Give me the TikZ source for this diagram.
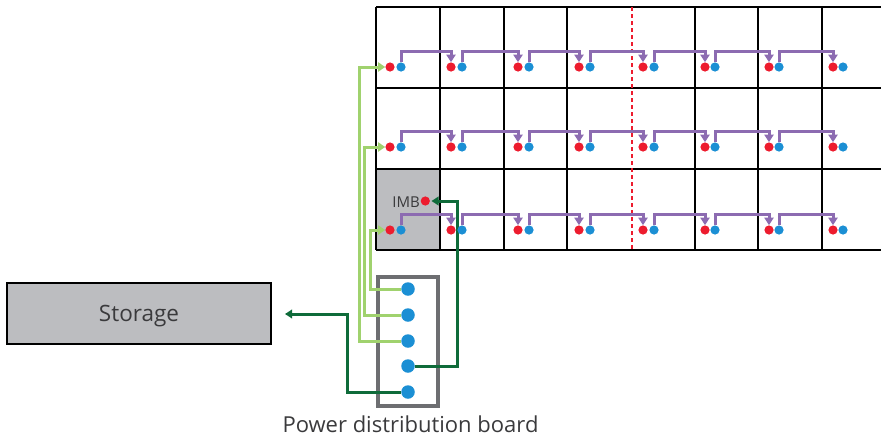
\documentclass[tikz,border=0pt]{standalone}
\usepackage{fontspec}
\setmainfont{Open Sans}
\usetikzlibrary{arrows.meta,backgrounds}
\definecolor{cellgray}{HTML}{BCBDC0}
\definecolor{boardgray}{HTML}{6D6E71}
\definecolor{textgray}{HTML}{3A3A3C}
\definecolor{dotred}{HTML}{ED1C2E}
\definecolor{dotblue}{HTML}{1B8FD4}
\definecolor{linkpurple}{HTML}{8C6BB1}
\definecolor{feedgreen}{HTML}{A0D26E}
\definecolor{signalgreen}{HTML}{0F6B3A}

\begin{document}
\begin{tikzpicture}[
    x=1pt, y=-1pt,
    reddot/.style={circle, fill=dotred, inner sep=0pt, minimum size=9.2pt},
    bluedot/.style={circle, fill=dotblue, inner sep=0pt, minimum size=9.2pt},
    pindot/.style={circle, fill=dotblue, inner sep=0pt, minimum size=13.5pt},
    cellline/.style={line width=2pt, black},
    link/.style={-{Triangle[length=7.5pt, width=9pt]}, line width=3pt, linkpurple},
    feed/.style={-{Triangle[length=7pt, width=9pt]}, line width=3pt, feedgreen},
    signal/.style={-{Triangle[length=7pt, width=8.5pt]}, line width=3pt, signalgreen},
    every node/.style={text=textgray},
]
\useasboundingbox (0,0) rectangle (881,437);

% === Dots on the wall ===
\foreach \row/\ypos in {1/67, 2/147, 3/230} {
    \foreach \col/\xred/\xblue in {1/390/401, 2/451/462, 3/518/529, 4/579/590,
                                   5/643/654, 6/705/715, 7/769/779, 8/833/843} {
        \node[reddot] (red\row\col) at (\xred, \ypos) {};
        \node[bluedot] (blue\row\col) at (\xblue, \ypos) {};
    }
}
\node[reddot] (imbdot) at (425.3, 201) {};
\node[font=\fontsize{15}{17}\selectfont, anchor=east, inner sep=0pt] (imb) at (420, 202) {IMB};

% === Power distribution board ===
\node[pindot] (pin1) at (408, 289) {};
\node[pindot] (pin2) at (408, 315) {};
\node[pindot] (pin3) at (408, 341) {};
\node[pindot] (pin4) at (408, 366) {};
\node[pindot] (pin5) at (408, 392) {};
\node[font=\fontsize{22}{26}\selectfont] (boardlabel) at (410.5, 424) {Power distribution board};

% Storage
\node[draw=black, fill=cellgray, line width=1.2pt, minimum width=264pt, minimum height=61pt,
      text height=20pt, text depth=4pt,
      font=\fontsize{22.5}{26}\selectfont] (storage) at (139, 313.5) {Storage};
\coordinate (storagein) at (285, 314);
\coordinate (imbin) at (431.5, 201);

\begin{scope}[on background layer]
    % Grid
    \fill[cellgray] (376,169) rectangle (440,250);
    \foreach \xpos in {376, 440, 504, 567, 695, 758, 822} {
        \draw[cellline] (\xpos, 7) -- (\xpos, 250);
    }
    \foreach \ypos in {7, 88, 169, 250} {
        \draw[cellline] (376, \ypos) -- (881, \ypos);
    }
    \draw[dotred, line width=2pt, dash pattern=on 4pt off 3pt] (632, 7) -- (632, 250);

    % Board outline
    \node[draw=boardgray, line width=3.4pt, minimum width=60pt, minimum height=129pt, inner sep=0pt] (board) at (408, 341.3) {};

    % Links along each row
    \foreach \row/\rise in {1/11, 2/11, 3/11} {
        \foreach \col/\nextcol in {1/2, 2/3, 3/4, 4/5, 5/6, 6/7, 7/8} {
            \draw[link] (blue\row\col.north) -- ++(0, -\rise) -| (red\row\nextcol.north);
        }
    }

    % Feeds from the board
    \draw[feed] (pin3.west) -- ++(-41.25, 0) |- (red11.west);
    \draw[feed] (pin2.west) -- ++(-36.25, 0) |- (red21.west);
    \draw[feed] (pin1.west) -- ++(-30.25, 0) |- (red31.west);

    % Signals
    \draw[signal] (pin4.east) -- ++(42.25, 0) |- (imbin);
    \draw[signal] (pin5.west) -- ++(-53.25, 0) |- (storagein);
\end{scope}
\end{tikzpicture}
\end{document}
